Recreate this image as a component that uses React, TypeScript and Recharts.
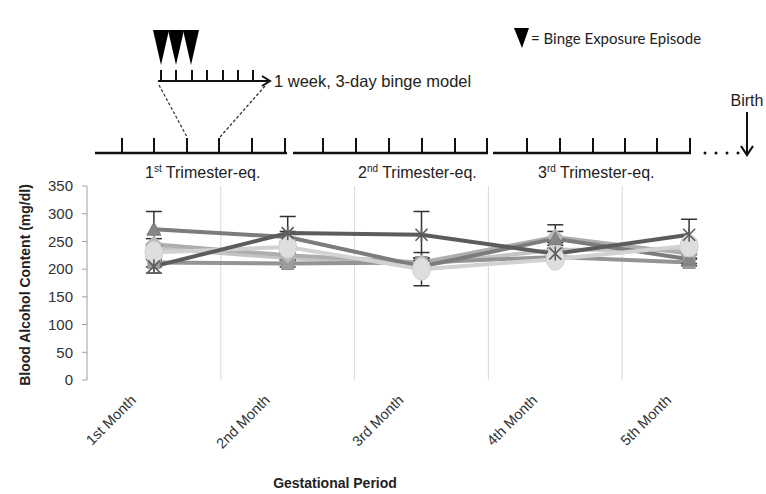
import React from 'react';
import {
  ComposedChart,
  Line,
  XAxis,
  YAxis,
  CartesianGrid,
  ErrorBar,
} from 'recharts';

// Gestational months on the category axis
const months = ['1st Month', '2nd Month', '3rd Month', '4th Month', '5th Month'];

// Y axis ticks (mg/dl)
const yTicks = [0, 50, 100, 150, 200, 250, 300, 350];

// Blood alcohol content per group, with standard errors
const groupA = [205, 265, 262, 228, 262];
const groupAErr = [12, 30, 42, 10, 28];
const groupB = [272, 258, 205, 255, 218];
const groupBErr = [32, 10, 10, 25, 8];
const groupC = [212, 210, 212, 222, 212];
const groupCErr = [8, 6, 8, 6, 6];
const groupD = [245, 225, 212, 258, 228];
const groupDErr = [10, 8, 8, 10, 8];
const groupE = [230, 240, 200, 218, 242];
const groupEErr = [12, 10, 30, 8, 10];
const groupF = [238, 220, 208, 235, 235];
const groupFErr = [8, 8, 8, 8, 8];

const data = months.map((m, i) => ({
  month: m,
  pos: i + 0.5,
  a: groupA[i],
  aErr: groupAErr[i],
  b: groupB[i],
  bErr: groupBErr[i],
  c: groupC[i],
  cErr: groupCErr[i],
  d: groupD[i],
  dErr: groupDErr[i],
  e: groupE[i],
  eErr: groupEErr[i],
  f: groupF[i],
  fErr: groupFErr[i],
}));

const FONT = '"Liberation Sans", Arial, sans-serif';

type Shape = 'star' | 'triangle' | 'square' | 'diamond' | 'circle' | 'bigcircle';

function marker(shape: Shape, fill: string, stroke: string) {
  return (props: any) => {
    const { cx, cy, index } = props;
    if (cx == null || cy == null) return <g key={`m-${index}`} />;
    const k = `m-${shape}-${index}`;
    switch (shape) {
      case 'star':
        return (
          <g key={k} stroke={stroke} strokeWidth={1.6}>
            <line x1={cx - 6} y1={cy - 6} x2={cx + 6} y2={cy + 6} />
            <line x1={cx - 6} y1={cy + 6} x2={cx + 6} y2={cy - 6} />
            <line x1={cx} y1={cy - 7} x2={cx} y2={cy + 7} />
          </g>
        );
      case 'triangle':
        return (
          <polygon
            key={k}
            points={`${cx},${cy - 7} ${cx + 7},${cy + 6} ${cx - 7},${cy + 6}`}
            fill={fill}
            stroke={stroke}
            strokeWidth={1}
          />
        );
      case 'square':
        return (
          <rect key={k} x={cx - 6} y={cy - 6} width={12} height={12} fill={fill} stroke={stroke} strokeWidth={1} />
        );
      case 'diamond':
        return (
          <polygon
            key={k}
            points={`${cx},${cy - 8} ${cx + 8},${cy} ${cx},${cy + 8} ${cx - 8},${cy}`}
            fill={fill}
            stroke={stroke}
            strokeWidth={1}
          />
        );
      case 'bigcircle':
        return <ellipse key={k} cx={cx} cy={cy} rx={9} ry={11} fill={fill} stroke={stroke} strokeWidth={1} />;
      default:
        return <circle key={k} cx={cx} cy={cy} r={7} fill={fill} stroke={stroke} strokeWidth={1} />;
    }
  };
}

const MonthTick = (props: any) => {
  const { x, y, payload } = props;
  return (
    <g transform={`translate(${x - 17},${y + 13}) rotate(-45)`}>
      <text x={0} y={0} textAnchor="end" fontSize={14.5} fill="#333" fontFamily={FONT}>
        {payload.value}
      </text>
    </g>
  );
};

// Boundaries between gestational months (drawn as vertical grid lines)
const boundaryLines = (args: any) => {
  const off = args.offset;
  return [1, 2, 3, 4].map((i) => off.left + (off.width * i) / months.length);
};

const series: { key: string; color: string; shape: Shape; fill: string }[] = [
  { key: 'f', color: '#c4c4c4', shape: 'circle', fill: '#d6d6d6' },
  { key: 'c', color: '#949494', shape: 'square', fill: '#9c9c9c' },
  { key: 'd', color: '#aeaeae', shape: 'diamond', fill: '#bbbbbb' },
  { key: 'b', color: '#7c7c7c', shape: 'triangle', fill: '#868686' },
  { key: 'e', color: '#d2d2d2', shape: 'bigcircle', fill: '#dedede' },
  { key: 'a', color: '#5c5c5c', shape: 'star', fill: '#5c5c5c' },
];

// Schematic of the binge model timeline drawn above the chart
const Timeline = () => {
  const weekTicks = [161, 176, 192, 207, 223, 238, 253];
  const tri1 = [122, 154, 187, 219, 252, 285];
  const tri2 = [323, 356, 389, 422, 455, 487];
  const tri3 = [527, 560, 593, 625, 657, 690];
  const tips = [161, 176, 191];
  const tickLine = (x: number, i: number, key: string) => (
    <line key={`${key}-${i}`} x1={x} y1={138} x2={x} y2={153} stroke="#111" strokeWidth={2} />
  );
  return (
    <svg
      width={766}
      height={494}
      style={{ position: 'absolute', left: 0, top: 0, pointerEvents: 'none' }}
      fontFamily={FONT}
    >
      {/* binge episodes */}
      {tips.map((t, i) => (
        <polygon key={`tri-${i}`} points={`${t - 8},30 ${t + 8},30 ${t},65`} fill="#000" />
      ))}
      {/* one-week line */}
      <line x1={158} y1={81} x2={268} y2={81} stroke="#111" strokeWidth={2} />
      {weekTicks.map((x, i) => (
        <line key={`w-${i}`} x1={x} y1={70} x2={x} y2={81} stroke="#111" strokeWidth={2} />
      ))}
      <path d="M262,76 L270,81 L262,86" fill="none" stroke="#111" strokeWidth={2} />
      <text x={274} y={87} fontSize={16.5} fill="#222">
        1 week, 3-day binge model
      </text>
      {/* zoom guides */}
      <line x1={159} y1={85} x2={187} y2={137} stroke="#333" strokeWidth={1.2} strokeDasharray="3 2" />
      <line x1={265} y1={86} x2={220} y2={137} stroke="#333" strokeWidth={1.2} strokeDasharray="3 2" />
      {/* trimester lines */}
      <line x1={95} y1={153} x2={287} y2={153} stroke="#111" strokeWidth={2.5} />
      <line x1={293} y1={153} x2={488} y2={153} stroke="#111" strokeWidth={2.5} />
      <line x1={493} y1={153} x2={691} y2={153} stroke="#111" strokeWidth={2.5} />
      {tri1.map((x, i) => tickLine(x, i, 't1'))}
      {tri2.map((x, i) => tickLine(x, i, 't2'))}
      {tri3.map((x, i) => tickLine(x, i, 't3'))}
      {[705, 716, 727, 738].map((x, i) => (
        <circle key={`dot-${i}`} cx={x} cy={153} r={1.5} fill="#111" />
      ))}
      <text x={145} y={178} fontSize={16} fill="#222">
        1<tspan fontSize={10} dy={-6}>st</tspan>
        <tspan dy={6}> Trimester-eq.</tspan>
      </text>
      <text x={358} y={178} fontSize={16} fill="#222">
        2<tspan fontSize={10} dy={-6}>nd</tspan>
        <tspan dy={6}> Trimester-eq.</tspan>
      </text>
      <text x={538} y={178} fontSize={16} fill="#222">
        3<tspan fontSize={10} dy={-6}>rd</tspan>
        <tspan dy={6}> Trimester-eq.</tspan>
      </text>
      {/* birth */}
      <text x={747} y={106} fontSize={16} fill="#222" textAnchor="middle">
        Birth
      </text>
      <line x1={747} y1={112} x2={747} y2={154} stroke="#111" strokeWidth={2} />
      <path d="M741,146 L747,155 L753,146" fill="none" stroke="#111" strokeWidth={2.2} />
      {/* legend */}
      <polygon points="514,28 529,28 522,48" fill="#000" />
      <text x={531} y={44} fontSize={15} fill="#222" fontFamily='Lato, "Open Sans", sans-serif'>
        = Binge Exposure Episode
      </text>
      {/* axis titles */}
      <text
        x={0}
        y={0}
        transform="translate(30,285) rotate(-90)"
        textAnchor="middle"
        fontSize={14}
        fontWeight="bold"
        fill="#222"
      >
        Blood Alcohol Content (mg/dl)
      </text>
      <text x={335} y={488} textAnchor="middle" fontSize={14} fontWeight="bold" fill="#222">
        Gestational Period
      </text>
    </svg>
  );
};

export default function App() {
  return (
    <div
      style={{
        position: 'absolute',
        left: 0,
        top: 0,
        width: 766,
        height: 494,
        background: '#fff',
        fontFamily: FONT,
      }}
    >
      <ComposedChart
        width={766}
        height={494}
        data={data}
        margin={{ top: 186, right: 10, bottom: 0, left: 0 }}
      >
        <CartesianGrid
          horizontal={false}
          vertical
          stroke="#d8d8d8"
          verticalCoordinatesGenerator={boundaryLines}
        />
        <XAxis
          xAxisId="cat"
          dataKey="month"
          type="category"
          scale="band"
          height={114}
          axisLine={false}
          tickLine={false}
          tick={<MonthTick />}
          interval={0}
        />
        <XAxis
          xAxisId="edge"
          dataKey="pos"
          type="number"
          domain={[0, 5]}
          ticks={[0, 1, 2, 3, 4, 5]}
          tick={false}
          tickSize={5}
          height={0}
          axisLine={{ stroke: '#a0a0a0' }}
          tickLine={{ stroke: '#a0a0a0' }}
          allowDataOverflow
        />
        <YAxis
          domain={[0, 350]}
          ticks={yTicks}
          width={87}
          axisLine={{ stroke: '#a0a0a0' }}
          tickLine={{ stroke: '#a0a0a0' }}
          tickSize={5}
          tickMargin={9}
          tick={{ fontSize: 15, fill: '#333', fontFamily: FONT }}
        />
        {series.map((s) => (
          <Line
            key={s.key}
            xAxisId="cat"
            type="linear"
            dataKey={s.key}
            stroke={s.color}
            strokeWidth={4}
            dot={marker(s.shape, s.fill, s.color)}
            activeDot={false}
            isAnimationActive={false}
          >
            <ErrorBar
              dataKey={`${s.key}Err`}
              direction="y"
              width={8}
              stroke="#333"
              strokeWidth={1.5}
            />
          </Line>
        ))}
      </ComposedChart>
      <Timeline />
    </div>
  );
}
